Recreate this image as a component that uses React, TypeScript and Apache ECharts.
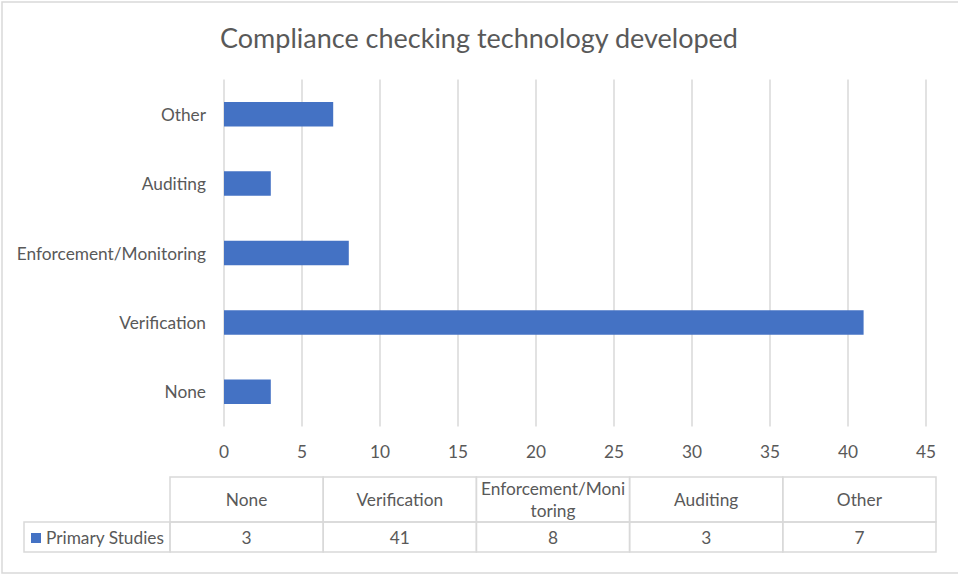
import React, { useEffect, useRef } from "react";
import * as echarts from "echarts";

const categories = ["None", "Verification", "Enforcement/Monitoring", "Auditing", "Other"];
const primaryStudies = [3, 41, 8, 3, 7];
const seriesName = "Primary Studies";
const titleText = "Compliance checking technology developed";

const FONT = "Lato, 'Open Sans', sans-serif";
const TXT = "#595959";
const GRID = "#d9d9d9";
const BLUE = "#4472c4";
const FS = 17.3;

export default function App() {
  const ref = useRef<HTMLDivElement>(null);
  useEffect(() => {
    document.body.style.margin = "0";
    const chart = echarts.init(ref.current!, undefined, { renderer: "svg" });

    const ctx = document.createElement("canvas").getContext("2d")!;
    ctx.font = `${FS}px Lato`;
    const cellWidth = ctx.measureText("Enforcement/Moni").width + 2;

    const tLeft = 170, tRight = 936, hTop = 477, hBot = 522, dBot = 552, legLeft = 24;
    const colW = (tRight - tLeft) / categories.length;
    const graphics: any[] = [];
    graphics.push({ type: "rect", shape: { x: 2, y: 2, width: 970, height: 571 }, style: { fill: "none", stroke: GRID, lineWidth: 1.5 }, silent: true });
    categories.forEach((c, i) => {
      const x = tLeft + i * colW;
      graphics.push({ type: "rect", shape: { x, y: hTop, width: colW, height: hBot - hTop }, style: { fill: "none", stroke: GRID, lineWidth: 1.5 } });
      graphics.push({
        type: "text", x: x + colW / 2, y: (hTop + hBot) / 2,
        style: { text: c, width: Math.min(cellWidth, colW - 4), overflow: "breakAll", align: "center", verticalAlign: "middle", fill: TXT, font: `${FS}px ${FONT}`, lineHeight: 22 },
      });
      graphics.push({ type: "rect", shape: { x, y: hBot, width: colW, height: dBot - hBot }, style: { fill: "none", stroke: GRID, lineWidth: 1.5 } });
      graphics.push({
        type: "text", x: x + colW / 2, y: (hBot + dBot) / 2,
        style: { text: String(primaryStudies[i]), align: "center", verticalAlign: "middle", fill: TXT, font: `${FS}px ${FONT}` },
      });
    });
    graphics.push({ type: "rect", shape: { x: legLeft, y: hBot, width: tLeft - legLeft, height: dBot - hBot }, style: { fill: "none", stroke: GRID, lineWidth: 1.5 } });
    graphics.push({ type: "rect", shape: { x: 31, y: 533, width: 10, height: 10 }, style: { fill: BLUE } });
    graphics.push({ type: "text", x: 46, y: (hBot + dBot) / 2, style: { text: seriesName, align: "left", verticalAlign: "middle", fill: TXT, font: `${FS}px ${FONT}` } });

    chart.setOption({
      animation: false,
      backgroundColor: "#ffffff",
      title: {
        text: titleText, left: "center", top: 19,
        textStyle: { fontFamily: FONT, fontSize: 27, fontWeight: "normal", color: TXT },
      },
      grid: { left: 224, right: 32, top: 79.5, bottom: 148.5, containLabel: false },
      xAxis: {
        type: "value", min: 0, max: 45, interval: 5,
        axisLine: { show: false }, axisTick: { show: false },
        splitLine: { show: true, lineStyle: { color: GRID, width: 1.5 } },
        axisLabel: { color: TXT, fontFamily: FONT, fontSize: FS, margin: 16 },
      },
      yAxis: {
        type: "category", data: categories,
        axisLine: { show: false }, axisTick: { show: false },
        axisLabel: { color: TXT, fontFamily: FONT, fontSize: FS, margin: 18 },
      },
      series: [{
        name: seriesName, type: "bar", data: primaryStudies, barWidth: 24.5,
        itemStyle: { color: BLUE },
      }],
      graphic: graphics,
    });
    return () => chart.dispose();
  }, []);
  return <div ref={ref} style={{ width: 958, height: 575 }} />;
}
